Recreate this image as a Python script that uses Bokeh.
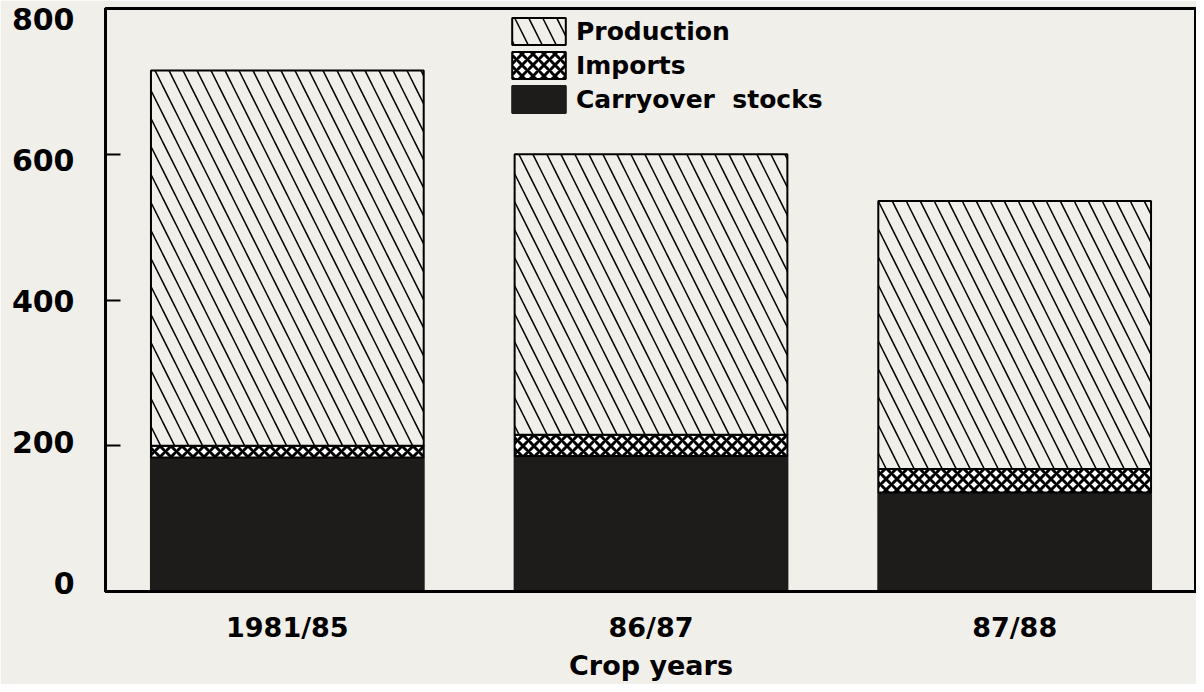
from bokeh.plotting import figure
from bokeh.models import (ColumnDataSource, FixedTicker, Legend, LegendItem,
                          LinearAxis, FactorRange, Range1d)
from bokeh.embed import file_html
from bokeh.resources import INLINE

# ---- data ----
years = ["1981/85", "86/87", "87/88"]
carryover = [184, 186, 136]
imports = [16, 29, 32]
production = [515, 385, 368]
y_ticks = [0, 200, 400, 600, 800]

BG = "#f1efe9"
DARK = "#1e1c1a"
FONT = "DejaVu Sans"

source = ColumnDataSource(dict(years=years, carryover=carryover,
                               imports=imports, production=production))

p = figure(x_range=FactorRange(*years), y_range=Range1d(0, 800),
           width=1196, height=684, output_backend="svg",
           toolbar_location=None, min_border_left=105, min_border_right=0,
           min_border_top=8, min_border_bottom=93)
p.background_fill_color = BG
p.border_fill_color = BG
p.outline_line_color = "black"
p.outline_line_width = 3
p.xgrid.visible = False
p.ygrid.visible = False

renderers = p.vbar_stack(
    ["carryover", "imports", "production"], x="years", width=0.75,
    source=source,
    fill_color=[DARK, "white", BG],
    line_color=[DARK, "black", "black"],
    line_width=2,
    hatch_pattern=[None, "diagonal_cross", "left_diagonal_line"],
    hatch_color=[DARK, "black", "black"],
    hatch_scale=[12, 11, 28],
    hatch_weight=[1, 3, 1.5],
)
r_carry, r_imp, r_prod = renderers

legend = Legend(items=[LegendItem(label="Production", renderers=[r_prod]),
                       LegendItem(label="Imports", renderers=[r_imp]),
                       LegendItem(label="Carryover  stocks", renderers=[r_carry])],
                location=(400, 475))
legend.glyph_width = 67
legend.glyph_height = 34
legend.label_height = 34
legend.spacing = 0
legend.padding = 0
legend.margin = 0
legend.label_standoff = 4
legend.border_line_color = None
legend.background_fill_alpha = 0
legend.label_text_font = FONT
legend.label_text_font_style = "bold"
legend.label_text_font_size = "25px"
legend.label_text_color = "black"
p.add_layout(legend, "center")

# y axis: tick marks only (drawn as minor ticks, so no labels)
p.yaxis.ticker = FixedTicker(ticks=[], minor_ticks=y_ticks)
p.yaxis.major_tick_line_color = None
p.yaxis.minor_tick_in = 15
p.yaxis.minor_tick_out = 0
p.yaxis.minor_tick_line_width = 2
p.yaxis.minor_tick_line_color = "black"
p.yaxis.axis_line_width = 3

# y tick labels on a companion axis, placed like the printed chart's labels
p.extra_y_ranges = {"labels": Range1d(-11.6, 814.8)}
label_axis = LinearAxis(y_range_name="labels", ticker=FixedTicker(ticks=y_ticks))
label_axis.axis_line_color = None
label_axis.major_tick_line_color = None
label_axis.minor_tick_line_color = None
label_axis.major_tick_in = 0
label_axis.major_tick_out = 0
label_axis.major_label_standoff = 31
label_axis.major_label_text_font = FONT
label_axis.major_label_text_font_style = "bold"
label_axis.major_label_text_font_size = "30px"
label_axis.major_label_text_color = "black"
p.add_layout(label_axis, "left")

# x axis
p.xaxis.major_tick_in = 0
p.xaxis.major_tick_out = 0
p.xaxis.axis_line_width = 3
p.xaxis.major_label_standoff = 20
p.xaxis.major_label_text_font = FONT
p.xaxis.major_label_text_font_style = "bold"
p.xaxis.major_label_text_font_size = "27px"
p.xaxis.major_label_text_color = "black"
p.xaxis.axis_label = "Crop years"
p.xaxis.axis_label_standoff = 4
p.xaxis.axis_label_text_font = FONT
p.xaxis.axis_label_text_font_style = "bold"
p.xaxis.axis_label_text_font_size = "27px"
p.xaxis.axis_label_text_color = "black"

open("out.html", "w").write(file_html(p, INLINE))
